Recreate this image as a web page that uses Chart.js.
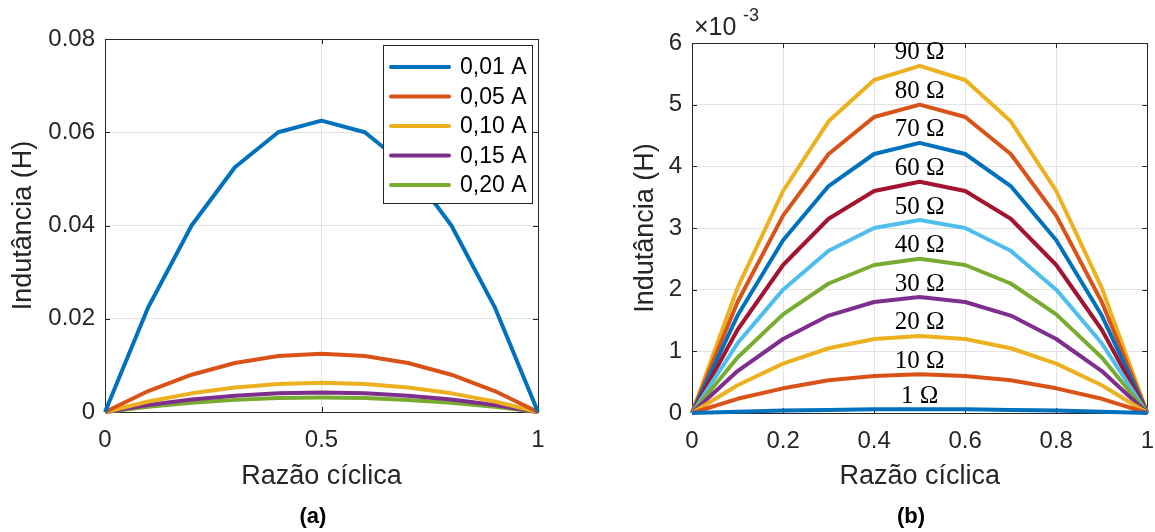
<!DOCTYPE html>
<html>
<head>
<meta charset="utf-8">
<script src="https://cdn.jsdelivr.net/npm/chart.js@4/dist/chart.umd.min.js"></script>
<style>
    body { margin: 0; background: #fff; }
    #wrap { position: relative; width: 1155px; height: 532px; overflow: hidden; }
    canvas { position: absolute; top: 0; }
    .caption { position: absolute; top: 503px; font: bold 22px "Liberation Sans", Arial, sans-serif; color: #000; width: 60px; text-align: center; }
</style>
</head>
<body>
<div id="wrap">
    <canvas id="chartA" style="left:0px"></canvas>
    <canvas id="chartB" style="left:578px"></canvas>
    <div class="caption" style="left:283px">(a)</div>
    <div class="caption" style="left:881px">(b)</div>
</div>
<script>
// x values (duty cycle) shared by both plots
const dutyCycle = [0, 0.1, 0.2, 0.3, 0.4, 0.5, 0.6, 0.7, 0.8, 0.9, 1];

// (a) inductance in H for each current
const currentLabels = ["0,01 A", "0,05 A", "0,10 A", "0,15 A", "0,20 A"];
const current001 = [0, 0.0225, 0.04, 0.0525, 0.06, 0.0625, 0.06, 0.0525, 0.04, 0.0225, 0];
const current005 = [0, 0.0045, 0.008, 0.0105, 0.012, 0.0125, 0.012, 0.0105, 0.008, 0.0045, 0];
const current010 = [0, 0.00225, 0.004, 0.00525, 0.006, 0.00625, 0.006, 0.00525, 0.004, 0.00225, 0];
const current015 = [0, 0.0015, 0.0027, 0.0035, 0.004, 0.0042, 0.004, 0.0035, 0.0027, 0.0015, 0];
const current020 = [0, 0.0011, 0.002, 0.0026, 0.003, 0.0031, 0.003, 0.0026, 0.002, 0.0011, 0];

// (b) inductance in units of 1e-3 H for each load resistance
const resistanceLabels = ["1 Ω", "10 Ω", "20 Ω", "30 Ω", "40 Ω", "50 Ω", "60 Ω", "70 Ω", "80 Ω", "90 Ω"];
const res1  = [0, 0.02, 0.04, 0.05, 0.06, 0.06, 0.06, 0.05, 0.04, 0.02, 0];
const res10 = [0, 0.23, 0.4, 0.53, 0.6, 0.63, 0.6, 0.53, 0.4, 0.23, 0];
const res20 = [0, 0.45, 0.8, 1.05, 1.2, 1.25, 1.2, 1.05, 0.8, 0.45, 0];
const res30 = [0, 0.68, 1.2, 1.58, 1.8, 1.88, 1.8, 1.58, 1.2, 0.68, 0];
const res40 = [0, 0.9, 1.6, 2.1, 2.4, 2.5, 2.4, 2.1, 1.6, 0.9, 0];
const res50 = [0, 1.13, 2.0, 2.63, 3.0, 3.13, 3.0, 2.63, 2.0, 1.13, 0];
const res60 = [0, 1.35, 2.4, 3.15, 3.6, 3.75, 3.6, 3.15, 2.4, 1.35, 0];
const res70 = [0, 1.58, 2.8, 3.68, 4.2, 4.38, 4.2, 3.68, 2.8, 1.58, 0];
const res80 = [0, 1.8, 3.2, 4.2, 4.8, 5.0, 4.8, 4.2, 3.2, 1.8, 0];
const res90 = [0, 2.03, 3.6, 4.73, 5.4, 5.63, 5.4, 4.73, 3.6, 2.03, 0];

const matlabColors = ["#0072BD", "#D95319", "#EDB120", "#7E2F8E", "#77AC30", "#4DBEEE", "#A2142F"];
const axisColor = "#262626";
const sansFont = "'Liberation Sans', Arial, sans-serif";

function makeDataset(label, values, i) {
    return {
        label: label,
        data: values.map((v, k) => ({ x: dutyCycle[k], y: v })),
        borderColor: matlabColors[i % matlabColors.length],
        borderWidth: 4,
        pointRadius: 0,
        borderJoinStyle: "round",
        clip: 8
    };
}

// box around the plot area with inward ticks (drawn under the lines)
const axesBox = {
    id: "axesBox",
    beforeDatasetsDraw(chart) {
        const { ctx, chartArea: a, scales: { x, y } } = chart;
        ctx.save();
        ctx.strokeStyle = axisColor;
        ctx.lineWidth = 1;
        ctx.beginPath();
        ctx.rect(Math.round(a.left) + 0.5, Math.round(a.top) + 0.5, Math.round(a.right - a.left), Math.round(a.bottom - a.top));
        x.ticks.forEach(t => {
            const px = Math.round(x.getPixelForValue(t.value)) + 0.5;
            ctx.moveTo(px, a.bottom); ctx.lineTo(px, a.bottom - 5);
            ctx.moveTo(px, a.top); ctx.lineTo(px, a.top + 5);
        });
        y.ticks.forEach(t => {
            const py = Math.round(y.getPixelForValue(t.value)) + 0.5;
            ctx.moveTo(a.left, py); ctx.lineTo(a.left + 5, py);
            ctx.moveTo(a.right, py); ctx.lineTo(a.right - 5, py);
        });
        ctx.stroke();
        ctx.restore();
    }
};

// legend box inside plot (a)
const insideLegend = {
    id: "insideLegend",
    afterDatasetsDraw(chart) {
        const ctx = chart.ctx;
        const left = 383, top = 45, w = 149, h = 158;
        ctx.save();
        ctx.fillStyle = "#fff";
        ctx.fillRect(left, top, w, h);
        ctx.strokeStyle = axisColor;
        ctx.lineWidth = 1;
        ctx.strokeRect(left + 0.5, top + 0.5, w, h);
        ctx.font = "23px " + sansFont;
        ctx.textBaseline = "middle";
        chart.data.datasets.forEach((ds, i) => {
            const yy = top + 22 + i * 29.5;
            ctx.strokeStyle = ds.borderColor;
            ctx.lineWidth = 4;
            ctx.lineCap = "round";
            ctx.beginPath();
            ctx.moveTo(left + 8, yy);
            ctx.lineTo(left + 66, yy);
            ctx.stroke();
            ctx.fillStyle = "#000";
            ctx.fillText(ds.label, left + 77, yy + 1);
        });
        ctx.restore();
    }
};

// resistance labels above the peak of each curve in (b), and the exponent label
const peakLabels = {
    id: "peakLabels",
    afterDatasetsDraw(chart) {
        const ctx = chart.ctx;
        ctx.save();
        ctx.font = "25px 'Liberation Serif', 'DejaVu Serif', serif";
        ctx.fillStyle = "#000";
        ctx.textAlign = "center";
        ctx.textBaseline = "middle";
        chart.data.datasets.forEach((ds, i) => {
            const pt = chart.getDatasetMeta(i).data[5];
            ctx.fillText(ds.label, pt.x, pt.y - 13);
        });
        const a = chart.chartArea;
        ctx.fillStyle = axisColor;
        ctx.textAlign = "left";
        ctx.textBaseline = "alphabetic";
        ctx.font = "25px " + sansFont;
        ctx.fillText("×10", a.left + 2, a.top - 8);
        ctx.font = "18px " + sansFont;
        ctx.fillText("-3", a.left + 51, a.top - 22);
        ctx.restore();
    }
};

function axisOptions(xStep, yMax, yStep, yWidth, yTitlePad, xHeight, yFormat) {
    return {
        x: {
            type: "linear",
            min: 0, max: 1,
            afterFit: s => { s.height = xHeight; },
            ticks: { stepSize: xStep, padding: 14, color: axisColor, font: { family: sansFont, size: 24 },
                     callback: v => String(+v.toFixed(2)) },
            grid: { color: "#e3e3e3", drawTicks: false },
            border: { color: axisColor },
            title: { display: true, text: "Razão cíclica", color: axisColor,
                     font: { family: sansFont, size: 27 }, padding: { top: 0, bottom: 39 } }
        },
        y: {
            min: 0, max: yMax,
            afterFit: s => { s.width = yWidth; },
            ticks: { stepSize: yStep, padding: 10, color: axisColor, font: { family: sansFont, size: 24 },
                     callback: yFormat },
            grid: { color: "#e3e3e3", drawTicks: false },
            border: { color: axisColor },
            title: { display: true, text: "Indutância (H)", color: axisColor,
                     font: { family: sansFont, size: 27 }, padding: { top: yTitlePad, bottom: 0 } }
        }
    };
}

function setupCanvas(id, w) {
    const c = document.getElementById(id);
    c.width = w; c.height = 532;
    c.style.width = w + "px"; c.style.height = "532px";
    return c.getContext("2d");
}

new Chart(setupCanvas("chartA", 578), {
    type: "line",
    data: {
        datasets: [current001, current005, current010, current015, current020]
            .map((vals, i) => makeDataset(currentLabels[i], vals, i))
    },
    options: {
        responsive: false,
        animation: false,
        layout: { padding: { left: 0, right: 40, top: 39, bottom: 0 } },
        plugins: { legend: { display: false }, tooltip: { enabled: false } },
        scales: axisOptions(0.5, 0.08, 0.02, 105, 7, 120, v => String(+v.toFixed(2)))
    },
    plugins: [axesBox, insideLegend]
});

new Chart(setupCanvas("chartB", 590), {
    type: "line",
    data: {
        datasets: [res1, res10, res20, res30, res40, res50, res60, res70, res80, res90]
            .map((vals, i) => makeDataset(resistanceLabels[i], vals, i))
    },
    options: {
        responsive: false,
        animation: false,
        layout: { padding: { left: 0, right: 8, top: 43, bottom: 0 } },
        plugins: { legend: { display: false }, tooltip: { enabled: false } },
        scales: axisOptions(0.2, 6, 1, 114, 51, 119, v => String(+v.toFixed(1)))
    },
    plugins: [axesBox, peakLabels]
});
</script>
</body>
</html>
